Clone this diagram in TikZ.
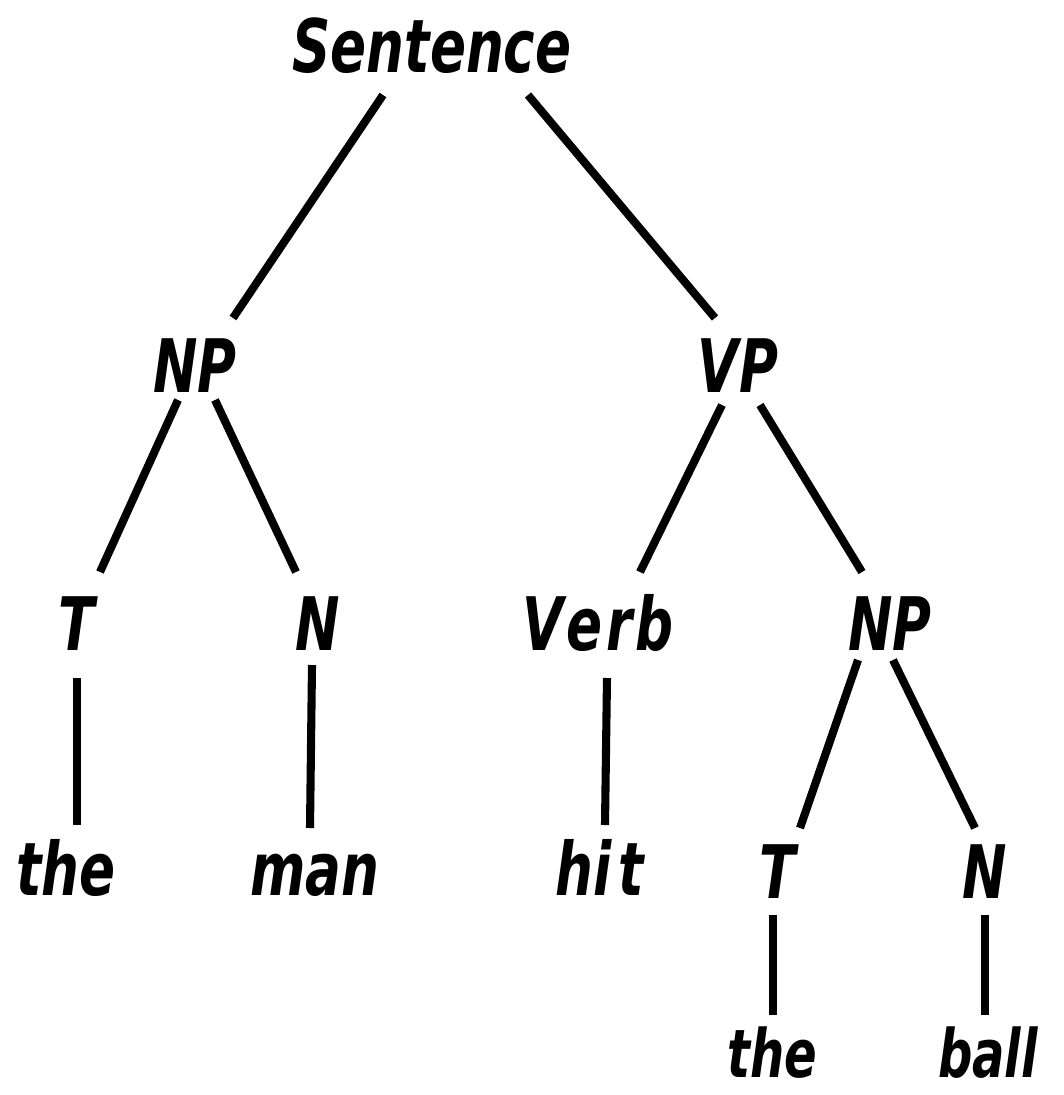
\documentclass[tikz,border=0pt]{standalone}
\usepackage{fontspec}
\setmainfont{DejaVu Sans}[FakeStretch=0.72]
\begin{document}
\begin{tikzpicture}[x=0.1mm,y=-0.1mm,
  lab/.style={font=\fontsize{21}{24}\selectfont\bfseries\itshape, inner sep=0pt, anchor=base},
  small/.style={font=\fontsize{19}{22}\selectfont\bfseries\itshape},
  edge/.style={line width=2.3pt, line cap=butt}]
\useasboundingbox (0,0) rectangle (1063,1095);
\node[lab] (S) at (432,72) {Sentence};
\node[lab] (NP) at (195,392) {NP};
\node[lab] (VP) at (738,392) {VP};
\node[lab] (T) at (77,650) {T};
\node[lab] (N) at (318,650) {N};
\node[lab] (Verb) at (598,650) {V\kern1pt e\kern1pt r\kern1pt b};
\node[lab] (NPb) at (890,650) {NP};
\node[lab] (the) at (66,895) {the};
\node[lab] (man) at (315,895) {man};
\node[lab] (hit) at (600,895) {hi\kern2pt t};
\node[lab] (Tb) at (778,898) {T};
\node[lab] (Nb) at (985,898) {N};
\node[lab,small] (theb) at (772,1077) {the};
\node[lab,small] (ball) at (988,1077) {ball};
\draw[edge] ([shift={(-49,23)}]S.base) -- ([shift={(38,-74)}]NP.base);
\draw[edge] ([shift={(96,23)}]S.base) -- ([shift={(-23,-74)}]VP.base);
\draw[edge] ([shift={(-17,8)}]NP.base) -- ([shift={(23,-78)}]T.base);
\draw[edge] ([shift={(20,8)}]NP.base) -- ([shift={(-22,-78)}]N.base);
\draw[edge] ([shift={(-16,13)}]VP.base) -- ([shift={(42,-78)}]Verb.base);
\draw[edge] ([shift={(22,13)}]VP.base) -- ([shift={(-28,-78)}]NPb.base);
\draw[edge] ([shift={(0,28)}]T.base) -- ([shift={(11,-70)}]the.base);
\draw[edge] ([shift={(-6,15)}]N.base) -- ([shift={(-5,-67)}]man.base);
\draw[edge] ([shift={(9,28)}]Verb.base) -- ([shift={(5,-70)}]hit.base);
\draw[edge] ([shift={(-32,10)}]NPb.base) -- ([shift={(22,-70)}]Tb.base);
\draw[edge] ([shift={(3,10)}]NPb.base) -- ([shift={(-10,-70)}]Nb.base);
\draw[edge] ([shift={(-5,17)}]Tb.base) -- ([shift={(1,-62)}]theb.base);
\draw[edge] ([shift={(0,17)}]Nb.base) -- ([shift={(-3,-62)}]ball.base);
\end{tikzpicture}
\end{document}
